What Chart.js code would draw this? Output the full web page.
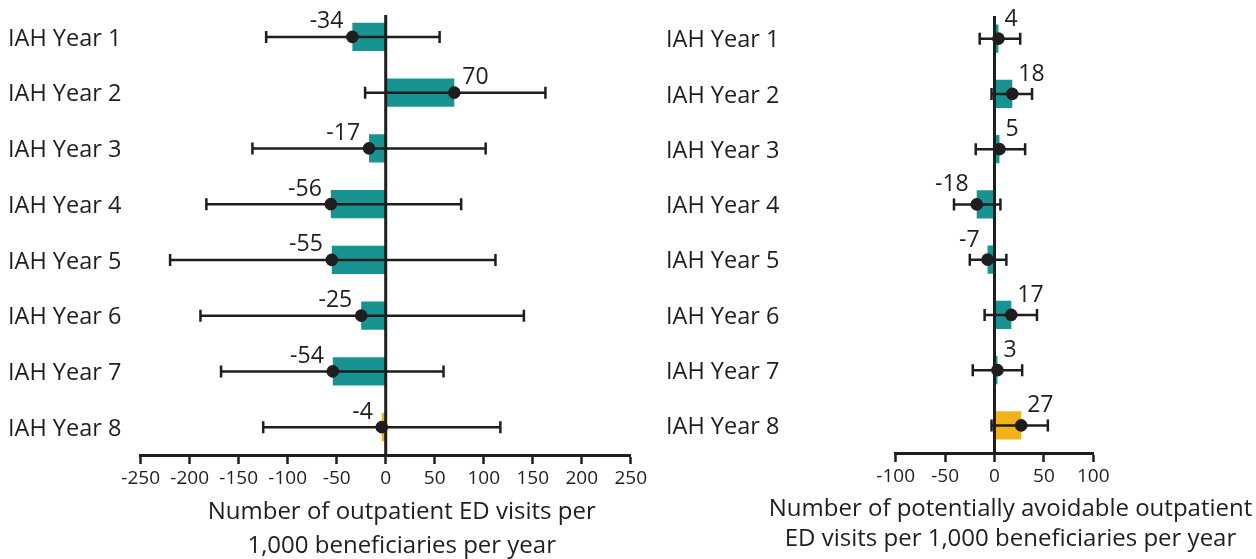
<!DOCTYPE html>
<html>
<head>
<meta charset="utf-8">
<title>IAH outpatient ED visits</title>
<script src="https://cdn.jsdelivr.net/npm/chart.js"></script>
<style>
  body { margin: 0; background: #fff; }
  .panel { position: absolute; top: 0; height: 559px; }
</style>
</head>
<body>
<div class="panel" style="left:0;width:650px"><canvas id="edChart" width="650" height="559"></canvas></div>
<div class="panel" style="left:650px;width:606px"><canvas id="avoidChart" width="606" height="559"></canvas></div>
<script>
const years = ['IAH Year 1', 'IAH Year 2', 'IAH Year 3', 'IAH Year 4',
               'IAH Year 5', 'IAH Year 6', 'IAH Year 7', 'IAH Year 8'];

// outpatient ED visits per 1,000 beneficiaries per year
const edValues = [-34, 70, -17, -56, -55, -25, -54, -4];
const edLower  = [-122, -21, -136, -183, -220, -189, -168, -125];
const edUpper  = [55, 163, 102, 77, 112, 141, 59, 117];
const edTicks  = [-250, -200, -150, -100, -50, 0, 50, 100, 150, 200, 250];

// potentially avoidable outpatient ED visits per 1,000 beneficiaries per year
const avoidValues = [4, 18, 5, -18, -7, 17, 3, 27];
const avoidLower  = [-15, -3, -19, -41, -25, -10, -22, -3];
const avoidUpper  = [26, 38, 31, 6, 12, 43, 28, 54];
const avoidTicks  = [-100, -50, 0, 50, 100];

const INK = '#1f1d1e';
const TEAL = '#179491';
const GOLD = '#f1b31c';
const FONT = '"Open Sans", "Noto Sans", sans-serif';

Chart.defaults.font.family = FONT;
Chart.defaults.color = INK;

function makeChart(id, opt) {
  const canvas = document.getElementById(id);
  const W = canvas.width, H = canvas.height;
  const barColors = years.map((_, i) => i === years.length - 1 ? GOLD : TEAL);

  // zero line + confidence whiskers, drawn over the bars and under the dots
  const whiskers = {
    id: 'whiskers',
    afterDatasetDraw(chart, args) {
      if (args.index !== 0) return;
      const { ctx, chartArea } = chart;
      const xs = chart.scales.x, ys = chart.scales.y;
      ctx.save();
      ctx.strokeStyle = INK;
      const x0 = xs.getPixelForValue(0);
      ctx.lineWidth = 3;
      ctx.beginPath();
      ctx.moveTo(x0, chartArea.top + opt.zeroInset);
      ctx.lineTo(x0, chartArea.bottom);
      ctx.stroke();
      ctx.lineWidth = 2.5;
      opt.lower.forEach((lo, i) => {
        const yc = ys.getPixelForValue(i);
        const xl = xs.getPixelForValue(lo), xr = xs.getPixelForValue(opt.upper[i]);
        ctx.beginPath();
        ctx.moveTo(xl, yc); ctx.lineTo(xr, yc);
        ctx.moveTo(xl, yc - 6); ctx.lineTo(xl, yc + 6);
        ctx.moveTo(xr, yc - 6); ctx.lineTo(xr, yc + 6);
        ctx.stroke();
      });
      ctx.restore();
    }
  };

  // value labels next to each dot, and the two-line axis title
  const annotate = {
    id: 'annotate',
    afterDatasetsDraw(chart) {
      const { ctx, chartArea } = chart;
      const xs = chart.scales.x, ys = chart.scales.y;
      ctx.save();
      ctx.fillStyle = INK;
      ctx.textBaseline = 'alphabetic';
      ctx.font = '23px ' + FONT;
      opt.values.forEach((v, i) => {
        const px = xs.getPixelForValue(v), py = ys.getPixelForValue(i);
        ctx.textAlign = v < 0 ? 'right' : 'left';
        ctx.fillText(String(v), px + (v < 0 ? opt.negDx : opt.posDx), py - opt.labelDy);
      });
      ctx.font = '24px ' + FONT;
      ctx.textAlign = 'center';
      const cx = (chartArea.left + chartArea.right) / 2 + 16;
      opt.title.forEach((line, i) => {
        ctx.fillText(line, cx, chartArea.bottom + opt.titleDy[i]);
      });
      ctx.restore();
    }
  };

  return new Chart(canvas, {
    type: 'bar',
    data: {
      labels: years,
      datasets: [{
        data: opt.values,
        backgroundColor: barColors,
        borderWidth: 0,
        barPercentage: 0.51,
        categoryPercentage: 1,
        order: 1
      }, {
        type: 'line',
        data: opt.values.map((v, i) => ({ x: v, y: years[i] })),
        showLine: false,
        pointRadius: 6.3,
        pointBorderWidth: 0,
        pointBackgroundColor: INK,
        order: 0
      }]
    },
    options: {
      indexAxis: 'y',
      responsive: false,
      animation: false,
      events: [],
      layout: {
        padding: { left: opt.labelX, top: opt.area.top, right: W - opt.area.right, bottom: 0 }
      },
      plugins: { legend: { display: false }, tooltip: { enabled: false } },
      scales: {
        x: {
          type: 'linear',
          min: opt.ticks[0],
          max: opt.ticks[opt.ticks.length - 1],
          afterBuildTicks: s => { s.ticks = opt.ticks.map(v => ({ value: v })); },
          afterFit: s => { s.height = H - opt.area.bottom; },
          ticks: { font: { size: 19 }, color: INK, padding: 3, maxRotation: 0, autoSkip: false },
          grid: { drawOnChartArea: false, tickLength: 9, tickColor: INK, tickWidth: 2.5 },
          border: { color: INK, width: 3 }
        },
        y: {
          type: 'category',
          afterFit: s => {
            s.width = opt.area.left - opt.labelX;
            s.paddingTop = 0;
            s.paddingBottom = 0;
          },
          ticks: { font: { size: 23.5 }, color: INK, crossAlign: 'far', labelOffset: 2 },
          grid: { display: false },
          border: { display: false }
        }
      }
    },
    plugins: [whiskers, annotate]
  });
}

makeChart('edChart', {
  values: edValues, lower: edLower, upper: edUpper, ticks: edTicks,
  area: { left: 140.7, right: 632, top: 9, bottom: 455 },
  labelX: 8, zeroInset: 6,
  posDx: 8, negDx: -9, labelDy: 8.5,
  title: ['Number of outpatient ED visits per', '1,000 beneficiaries per year'],
  titleDy: [64, 98]
});

makeChart('avoidChart', {
  values: avoidValues, lower: avoidLower, upper: avoidUpper, ticks: avoidTicks,
  area: { left: 245.7, right: 443.3, top: 11, bottom: 453 },
  labelX: 16, zeroInset: 5,
  posDx: 6, negDx: -8, labelDy: 13,
  title: ['Number of potentially avoidable outpatient', 'ED visits per 1,000 beneficiaries per year'],
  titleDy: [63, 93]
});
</script>
</body>
</html>
